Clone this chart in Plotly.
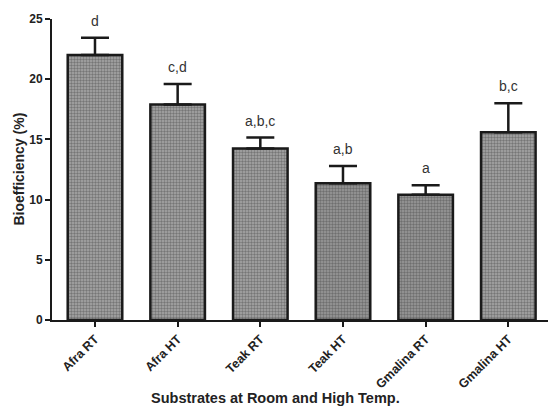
import plotly.graph_objects as go

categories = ["Afra RT", "Afra HT", "Teak RT", "Teak HT", "Gmalina RT", "Gmalina HT"]
means = [22.0, 17.9, 14.25, 11.35, 10.4, 15.6]
errors = [1.45, 1.7, 0.9, 1.45, 0.8, 2.4]
letters = ["d", "c,d", "a,b,c", "a,b", "a", "b,c"]
fill_bg = ["#a8a8a8", "#a8a8a8", "#a8a8a8", "#9a9a9a", "#9a9a9a", "#a8a8a8"]
y_ticks = [0, 5, 10, 15, 20, 25]

FONT = "Liberation Sans, Arial, sans-serif"
INK = "#222222"

fig = go.Figure()
fig.add_trace(go.Bar(
    x=categories, y=means,
    width=0.66,
    marker=dict(
        color=fill_bg,
        line=dict(color="#1a1a1a", width=2.5),
        pattern=dict(shape=".", fgcolor="#505050", size=3, solidity=0.5, fillmode="overlay"),
    ),
    error_y=dict(type="data", array=errors, arrayminus=[0] * len(errors), symmetric=False,
                 color="#1a1a1a", thickness=2.5, width=14),
    showlegend=False,
))

for c, m, e, t in zip(categories, means, errors, letters):
    fig.add_annotation(x=c, y=m + e, text=t, showarrow=False, yanchor="bottom", yshift=7,
                       font=dict(family=FONT, size=14, color="#333333"))

fig.add_annotation(xref="paper", yref="paper", x=(275 - 52) / 496, y=-(398 - 320) / 301,
                   text="<b>Substrates at Room and High Temp.</b>", showarrow=False,
                   xanchor="center", yanchor="middle",
                   font=dict(family=FONT, size=14.5, color=INK))
fig.add_annotation(xref="paper", yref="paper", x=(18 - 52) / 496, y=0.5,
                   text="<b>Bioefficiency (%)</b>", showarrow=False, textangle=-90,
                   xanchor="center", yanchor="middle",
                   font=dict(family=FONT, size=14, color=INK))

fig.update_layout(
    width=548, height=413,
    margin=dict(l=52, r=0, t=19, b=93, autoexpand=False),
    paper_bgcolor="white", plot_bgcolor="white",
    font=dict(family=FONT, color=INK),
)
fig.update_xaxes(
    range=[-0.52, 5.48], showline=True, linecolor="#1a1a1a", linewidth=2,
    ticks="outside", ticklen=5, tickwidth=2, tickcolor="#1a1a1a", automargin=False,
    tickangle=-45, tickfont=dict(family=FONT, size=12.5, color=INK, weight="bold"),
    showgrid=False, zeroline=False,
)
fig.update_yaxes(
    range=[0, 25], tickvals=y_ticks, showline=True, linecolor="#1a1a1a", linewidth=2,
    ticks="outside", ticklen=5, tickwidth=2, tickcolor="#1a1a1a", automargin=False,
    tickfont=dict(family=FONT, size=12, color=INK, weight="bold"),
    showgrid=False, zeroline=False,
)

fig.write_html("out.html", config={"displayModeBar": False},
               post_script="document.body.style.margin='0';document.body.style.overflow='hidden';")
